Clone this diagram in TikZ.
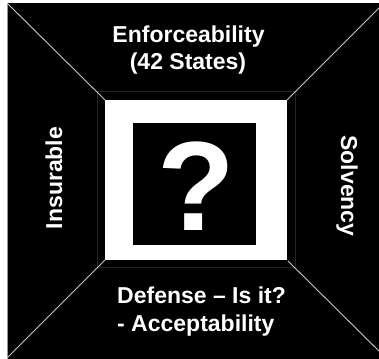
\documentclass[tikz,border=0pt]{standalone}
\usepackage{fontspec}
\setmainfont{Liberation Sans}
\begin{document}
\begin{tikzpicture}[x=1pt,y=-1pt,
  lbl/.style={text=white,font=\fontsize{23}{27}\selectfont\bfseries,inner sep=0pt},
  diag/.style={draw={rgb,255:red,200;green,200;blue,200},line width=0.9pt},
  faint/.style={draw={rgb,255:red,38;green,38;blue,38},line width=0.8pt}]
\useasboundingbox (0,0) rectangle (379,358);
\clip (0,0) rectangle (379,358);
\fill[white] (0,0) rectangle (379,358);
% outer black square
\coordinate (OTL) at (7,3);
\coordinate (OTR) at (384,3);
\coordinate (OBL) at (7,358);
\coordinate (OBR) at (386,358);
\fill[black] (7,3) rectangle (392,366);
\draw[draw={rgb,255:red,150;green,150;blue,150},line width=0.9pt] (7,3) -- (7,366);
% faint trapezoid edges
\draw[faint] (97,91) rectangle (295,267);
% white square and inner black square
\coordinate (WTL) at (105,100);
\coordinate (WTR) at (287,100);
\coordinate (WBL) at (105,260);
\coordinate (WBR) at (288,261);
\fill[white] (105,100) rectangle (287,260);
\fill[black] (133,123) rectangle (256,245);
% diagonals
\draw[diag] (OTL) -- (WTL);
\draw[diag] (OTR) -- (WTR);
\draw[diag] (OBL) -- (WBL);
\draw[diag] (OBR) -- (WBR);
% texts
\node[lbl,anchor=base] (t1) at (188.5,43) {Enforceability};
\node[lbl,anchor=base] (t2) at (188,70) {(42 States)};
\node[lbl,anchor=base west] (b1) at (117,303) {Defense – Is it?};
\node[lbl,anchor=base west] (b2) at (117,331) {- Acceptability};
\node[lbl,anchor=base,rotate=90] (ins) at (62,178) {Insurable};
\node[lbl,anchor=base,rotate=-90] (sol) at (341,186) {Solvency};
\node[text=white,font=\fontsize{127}{127}\selectfont\bfseries,inner sep=0pt,anchor=base] (q) at (196,230) {?};
\end{tikzpicture}
\end{document}
